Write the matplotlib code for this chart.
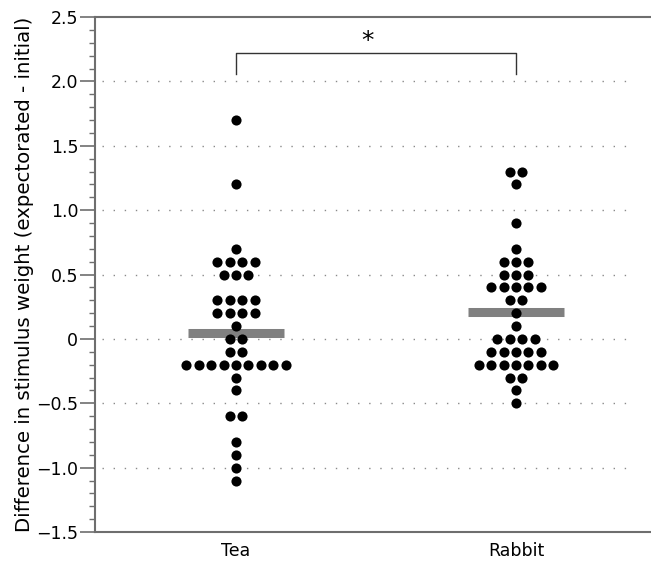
import matplotlib
matplotlib.use("Agg")
import matplotlib.pyplot as plt
import numpy as np
from collections import Counter

plt.rcParams['font.family'] = ['DejaVu Sans']

groups = ['Tea', 'Rabbit']
tea = [1.7, 1.2, 0.7,
       0.6, 0.6, 0.6, 0.6,
       0.5, 0.5, 0.5,
       0.3, 0.3, 0.3, 0.3,
       0.2, 0.2, 0.2, 0.2,
       0.1, 0.0, 0.0, -0.1, -0.1,
       -0.2, -0.2, -0.2, -0.2, -0.2, -0.2, -0.2, -0.2, -0.2,
       -0.3, -0.4, -0.6, -0.6, -0.8, -0.9, -1.0, -1.1]
rabbit = [1.3, 1.3, 1.2, 0.9, 0.7,
          0.6, 0.6, 0.6,
          0.5, 0.5, 0.5,
          0.4, 0.4, 0.4, 0.4, 0.4,
          0.3, 0.3, 0.2, 0.1,
          0.0, 0.0, 0.0, 0.0,
          -0.1, -0.1, -0.1, -0.1, -0.1,
          -0.2, -0.2, -0.2, -0.2, -0.2, -0.2, -0.2,
          -0.3, -0.3, -0.4, -0.5]
data = [tea, rabbit]
y_ticks = [2.5, 2.0, 1.5, 1.0, 0.5, 0, -0.5, -1.0, -1.5]
y_labels = ['2.5', '2.0', '1.5', '1.0', '0.5', '0', '\u22120.5', '\u22121.0', '\u22121.5']

axis_col = '#6e6e6e'

fig = plt.figure(figsize=(6.51, 5.61), dpi=100)
ax = fig.add_axes([95 / 651, 1 - 532 / 561, 1 - 95 / 651, (532 - 17) / 561])

spacing = 0.0443
for pos, vals in enumerate(data, start=1):
    counts = Counter(vals)
    xs, ys = [], []
    for v, n in counts.items():
        for i in range(n):
            xs.append(pos + (i - (n - 1) / 2) * spacing)
            ys.append(v)
    ax.plot(xs, ys, 'o', color='black', markersize=7.3, markeredgewidth=0, zorder=4)
    m = np.mean(vals)
    ax.plot([pos - 0.17, pos + 0.17], [m, m], color='#808080', lw=6.5,
            solid_capstyle='butt', zorder=3)

# significance bracket
ax.plot([1, 1, 2, 2], [2.06, 2.22, 2.22, 2.06], color='#333333', lw=1.0, zorder=3)
ax.text(1.47, 2.31, '*', ha='center', va='center', fontsize=18)

for g in [2.0, 1.5, 1.0, 0.5, 0, -0.5, -1.0]:
    ax.plot([0.52, 2.41], [g, g], color='#8a8a8a', lw=1.0,
            linestyle=(0, (1, 7)), zorder=1)

ax.set_xlim(0.4964, 2.482)
ax.set_ylim(-1.5, 2.5)
ax.set_yticks(y_ticks, y_labels)
ax.set_yticks(np.arange(-1.5, 2.51, 0.1), minor=True)
ax.tick_params(axis='y', which='major', length=11, width=1.2, color=axis_col,
               labelsize=12.5, pad=1)
ax.tick_params(axis='y', which='minor', length=4.5, width=1.0, color=axis_col)
ax.set_xticks([1, 2], groups)
ax.tick_params(axis='x', length=0, labelsize=12.5, pad=7)

ax.spines['right'].set_visible(False)
for s in ['left', 'top', 'bottom']:
    ax.spines[s].set_color(axis_col)
    ax.spines[s].set_linewidth(1.5)

ax.set_ylabel('Difference in stimulus weight (expectorated - initial)', fontsize=14.2, labelpad=2)

fig.savefig('out.png', dpi=100)
